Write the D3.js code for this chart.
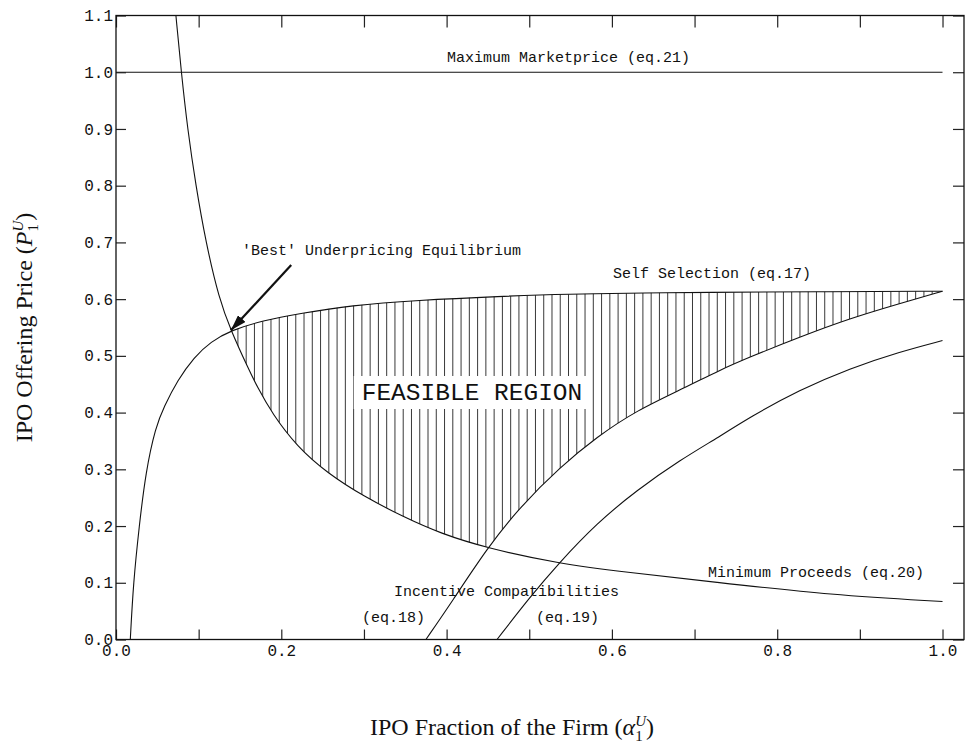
<!DOCTYPE html>
<html lang="en">
<head>
<meta charset="UTF-8">
<title>IPO Offering Price vs IPO Fraction</title>
<script src="https://d3js.org/d3.v7.min.js"></script>
<style>
  body { margin: 0; background: #fff; }
  svg { display: block; }
  .tick text { font-family: "Liberation Mono", monospace; font-size: 16px; fill: #111; }
  .tick line { stroke: #222; stroke-width: 1.2; }
  .curve { fill: none; stroke: #111; stroke-width: 1.1; }
  .hatch { stroke: #222; stroke-width: 0.9; }
  .note { font-family: "Liberation Mono", monospace; font-size: 15px; fill: #111; }
  .big { font-family: "Liberation Mono", monospace; font-size: 24.5px; fill: #111; }
  .title { font-family: "Liberation Serif", serif; font-size: 24px; fill: #111; }
</style>
</head>
<body>
<svg width="970" height="743"></svg>
<script>
// values: alpha = IPO fraction, price = offering price

// Self Selection (eq.17)
const ssAlpha = [0.0173, 0.021, 0.028, 0.036, 0.048, 0.058, 0.0745, 0.0946, 0.1147, 0.139, 0.177, 0.2234, 0.2838, 0.364, 0.465, 0.5455, 0.646, 0.7065, 0.847, 1.0];
const ssPrice = [0, 0.1, 0.199, 0.296, 0.375, 0.41, 0.457, 0.498, 0.525, 0.545, 0.562, 0.575, 0.589, 0.598, 0.605, 0.609, 0.611, 0.612, 0.613, 0.614];

// Minimum Proceeds (eq.20)
const mpAlpha = [0.0725, 0.079, 0.0866, 0.0966, 0.1087, 0.1248, 0.139, 0.159, 0.171, 0.189, 0.219, 0.256, 0.3, 0.348, 0.3925, 0.449, 0.535, 0.62, 0.719, 0.8675, 1.0];
const mpPrice = [1.1, 1.0, 0.9, 0.8, 0.7, 0.6, 0.545, 0.481, 0.445, 0.398, 0.34, 0.293, 0.252, 0.216, 0.187, 0.161, 0.134, 0.118, 0.102, 0.078, 0.067];

// Incentive Compatibility (eq.18)
const ic18Alpha = [0.375, 0.4066, 0.449, 0.489, 0.5374, 0.5817, 0.63, 0.69, 0.7307, 0.767, 0.827, 0.888, 0.948, 1.0];
const ic18Price = [0, 0.067, 0.161, 0.234, 0.304, 0.357, 0.404, 0.445, 0.475, 0.498, 0.533, 0.566, 0.592, 0.614];

// Incentive Compatibility (eq.19)
const ic19Alpha = [0.461, 0.501, 0.5354, 0.5817, 0.63, 0.682, 0.7307, 0.767, 0.827, 0.888, 0.948, 1.0];
const ic19Price = [0, 0.075, 0.134, 0.205, 0.263, 0.316, 0.358, 0.392, 0.44, 0.478, 0.507, 0.527];

// Maximum Marketprice (eq.21)
const maxAlpha = [0, 1.0];
const maxPrice = [1.0, 1.0];

// 'Best' underpricing equilibrium
const bestAlpha = 0.139, bestPrice = 0.545;

const xTicks = [0, 0.1, 0.2, 0.3, 0.4, 0.5, 0.6, 0.7, 0.8, 0.9, 1.0];
const xTickLabels = ["0.0", "", "0.2", "", "0.4", "", "0.6", "", "0.8", "", "1.0"];
const yTicks = [0, 0.1, 0.2, 0.3, 0.4, 0.5, 0.6, 0.7, 0.8, 0.9, 1.0, 1.1];
const yTickLabels = ["0.0", "0.1", "0.2", "0.3", "0.4", "0.5", "0.6", "0.7", "0.8", "0.9", "1.0", "1.1"];

const svg = d3.select("svg");
const x = d3.scaleLinear().domain([0, 1.026]).range([116, 964]);
const y = d3.scaleLinear().domain([0, 1.1]).range([639.5, 15.5]);

const pts = (a, p) => a.map((v, i) => [v, p[i]]);
const ss = pts(ssAlpha, ssPrice), mp = pts(mpAlpha, mpPrice),
      ic18 = pts(ic18Alpha, ic18Price), ic19 = pts(ic19Alpha, ic19Price),
      mx = pts(maxAlpha, maxPrice);

const smooth = d3.curveBasis;
const line = d3.line().x(d => x(d[0])).y(d => y(d[1])).curve(smooth);
const below = d3.area().x(d => x(d[0])).y0(y(0)).y1(d => y(d[1])).curve(smooth);
const above = d3.area().x(d => x(d[0])).y0(y(1.1)).y1(d => y(d[1])).curve(smooth);

// clip paths for the feasible region
const defs = svg.append("defs");
defs.append("clipPath").attr("id", "underSS").append("path").attr("d", below(ss));
defs.append("clipPath").attr("id", "overMP").append("path").attr("d", above(mp));
const c18 = defs.append("clipPath").attr("id", "overIC");
c18.append("rect").attr("x", x(0)).attr("y", y(1.1))
    .attr("width", x(ic18Alpha[0]) - x(0)).attr("height", y(0) - y(1.1));
c18.append("path").attr("d", above(ic18));

defs.append("marker").attr("id", "head")
    .attr("markerUnits", "userSpaceOnUse")
    .attr("viewBox", "0 0 16 10").attr("refX", 16).attr("refY", 5)
    .attr("markerWidth", 16).attr("markerHeight", 10).attr("orient", "auto")
  .append("path").attr("d", "M0,0 L16,5 L0,10 Z").attr("fill", "#111");

// hatching
const hatchAlpha = d3.range(0.1475, 1.0, 0.01);
svg.append("g").attr("clip-path", "url(#underSS)")
  .append("g").attr("clip-path", "url(#overMP)")
  .append("g").attr("clip-path", "url(#overIC)")
  .selectAll("line").data(hatchAlpha).join("line")
    .attr("class", "hatch")
    .attr("x1", d => x(d)).attr("x2", d => x(d))
    .attr("y1", y(0)).attr("y2", y(1.1));

// curves
[ss, mp, ic18, ic19, mx].forEach(d => {
  svg.append("path").attr("class", "curve").attr("d", line(d));
});

// axes
const noLabel = () => "";
svg.append("g").attr("transform", `translate(0,${y(0)})`)
  .call(d3.axisBottom(x).tickValues(xTicks).tickSize(-10).tickPadding(5)
        .tickFormat((d, i) => xTickLabels[i]));
svg.append("g").attr("transform", `translate(0,${y(1.1)})`)
  .call(d3.axisTop(x).tickValues(xTicks).tickSize(-12).tickFormat(noLabel));
svg.append("g").attr("transform", `translate(${x(0)},0)`)
  .call(d3.axisLeft(y).tickValues(yTicks).tickSize(-10).tickPadding(3)
        .tickFormat((d, i) => yTickLabels[i]));
svg.append("g").attr("transform", `translate(${x(1.026)},0)`)
  .call(d3.axisRight(y).tickValues(yTicks).tickSize(-11).tickFormat(noLabel));
svg.selectAll(".domain").remove();

svg.append("rect")
    .attr("x", x(0)).attr("y", y(1.1))
    .attr("width", x(1.026) - x(0)).attr("height", y(0) - y(1.1))
    .attr("fill", "none").attr("stroke", "#111").attr("stroke-width", 1.3);

// feasible region label with white box
const fr = svg.append("g");
const frText = fr.append("text").attr("class", "big")
    .attr("x", 472).attr("y", 400).attr("text-anchor", "middle")
    .text("FEASIBLE REGION");
const bb = frText.node().getBBox();
fr.insert("rect", "text")
    .attr("x", bb.x - 8).attr("y", bb.y - 4)
    .attr("width", bb.width + 16).attr("height", bb.height + 6)
    .attr("fill", "#fff");

// arrow to the best equilibrium
svg.append("line")
    .attr("x1", x(0.212)).attr("y1", y(0.66))
    .attr("x2", x(bestAlpha)).attr("y2", y(bestPrice))
    .attr("stroke", "#111").attr("stroke-width", 2.2)
    .attr("marker-end", "url(#head)");

// annotations
const notes = [
  { t: "Maximum Marketprice (eq.21)", x: 447, y: 62 },
  { t: "'Best' Underpricing Equilibrium", x: 242, y: 255 },
  { t: "Self Selection (eq.17)", x: 613, y: 278 },
  { t: "Minimum Proceeds (eq.20)", x: 708, y: 577 },
  { t: "Incentive Compatibilities", x: 394, y: 596 },
  { t: "(eq.18)", x: 362, y: 622 },
  { t: "(eq.19)", x: 536, y: 622 }
];
svg.selectAll(".note").data(notes).join("text")
    .attr("class", "note")
    .attr("x", d => d.x).attr("y", d => d.y)
    .text(d => d.t);

// axis titles
const xt = svg.append("text").attr("class", "title")
    .attr("x", 512).attr("y", 735).attr("text-anchor", "middle");
xt.append("tspan").text("IPO Fraction of the Firm (");
xt.append("tspan").attr("font-style", "italic").text("α");
xt.append("tspan").attr("font-size", 15).attr("dy", 6).text("1");
xt.append("tspan").attr("font-size", 15).attr("font-style", "italic").attr("dx", -7.5).attr("dy", -15).text("U");
xt.append("tspan").attr("dy", 9).text(")");

const yt = svg.append("text").attr("class", "title")
    .attr("transform", `translate(32,${(y(0) + y(1.1)) / 2}) rotate(-90)`)
    .attr("text-anchor", "middle");
yt.append("tspan").text("IPO Offering Price (");
yt.append("tspan").attr("font-style", "italic").text("P");
yt.append("tspan").attr("font-size", 15).attr("dy", 6).text("1");
yt.append("tspan").attr("font-size", 15).attr("font-style", "italic").attr("dx", -7.5).attr("dy", -15).text("U");
yt.append("tspan").attr("dy", 9).text(")");
</script>
</body>
</html>
